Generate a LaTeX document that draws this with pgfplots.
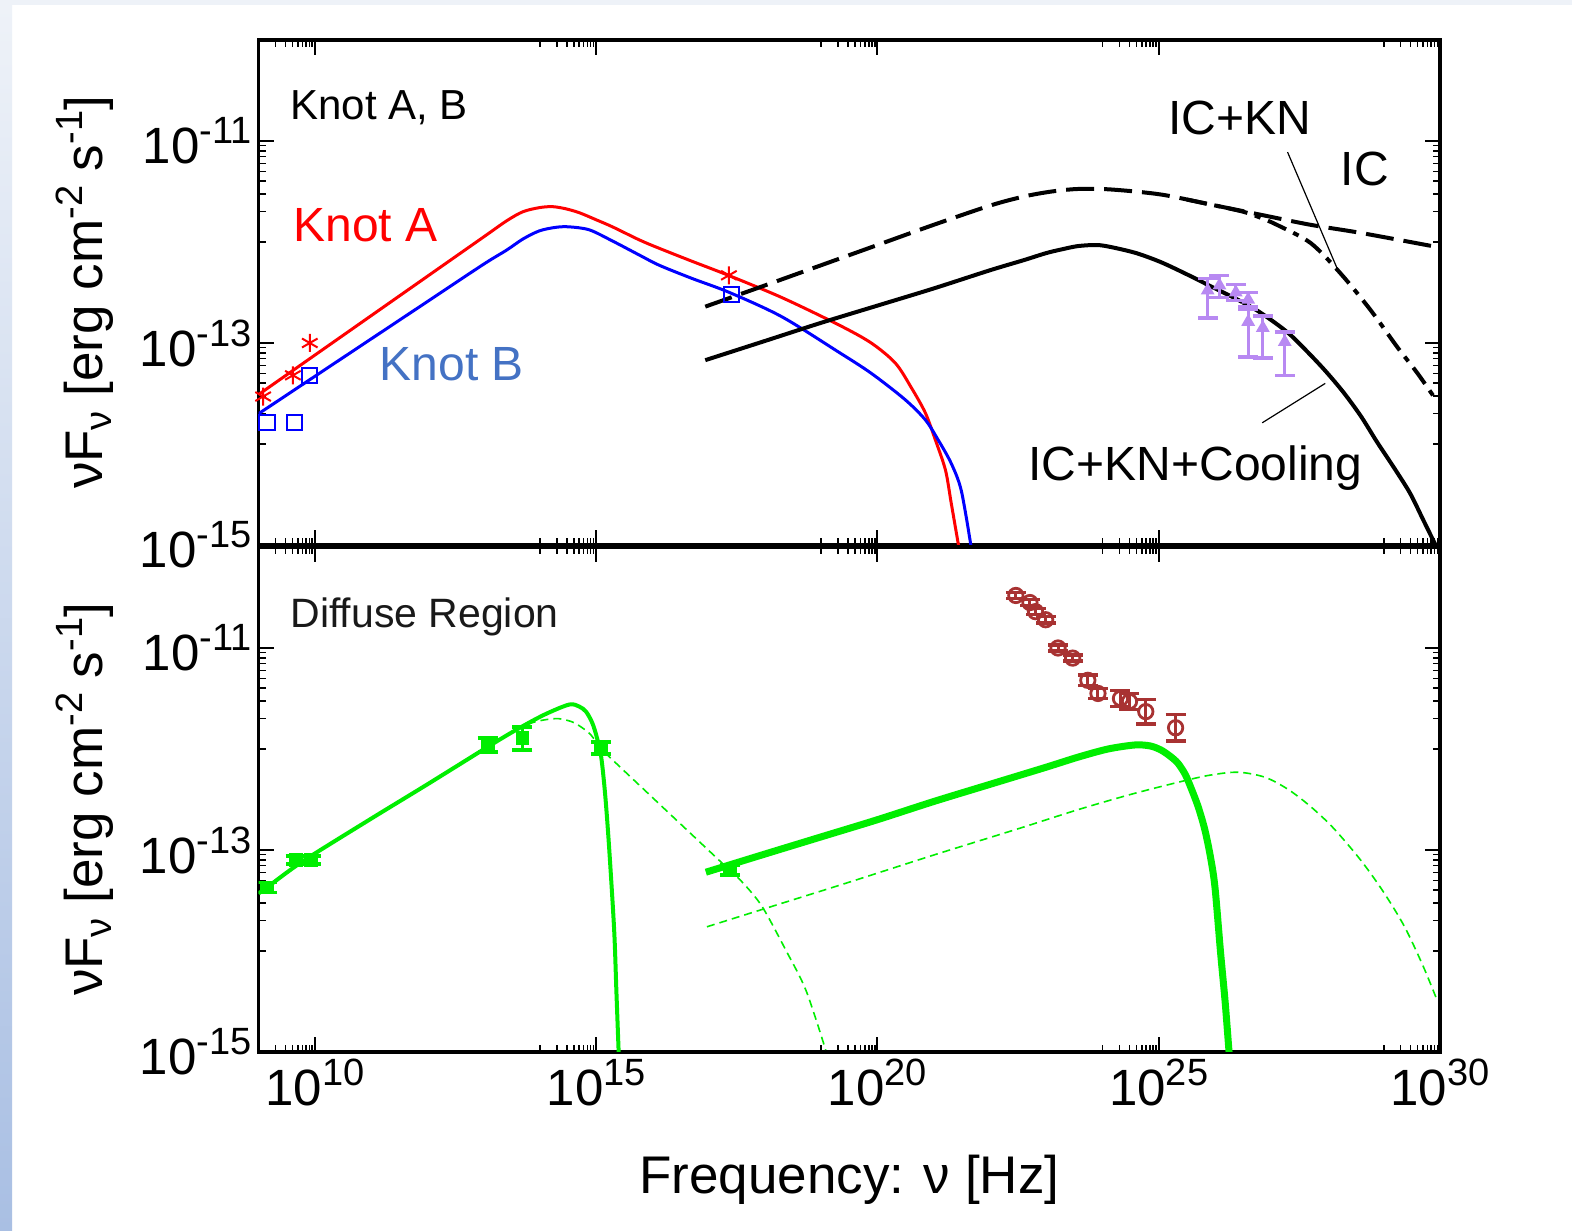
\documentclass[border=0pt]{standalone}
\usepackage{pgfplots}
\pgfplotsset{compat=1.18}
\usepackage{fontspec}
\setmainfont{Liberation Sans}
\definecolor{bgout}{HTML}{EEF2F8}
\definecolor{bgblue}{HTML}{A9BFE3}
\definecolor{kbblue}{HTML}{4472C4}
\definecolor{grn}{HTML}{00EE00}
\definecolor{purp}{HTML}{B889F2}
\definecolor{brn}{HTML}{A83232}
\newcommand{\Sup}[1]{\raisebox{10pt}{\fontsize{19}{22}\selectfont #1}}
\newcommand{\Sub}[1]{\raisebox{-4.5pt}{\fontsize{19}{22}\selectfont #1}}
\pgfplotsset{
  sedpanel/.style={
    anchor=south west, scale only axis, width=590.7pt, height=252.5pt,
    xmin=9, xmax=30, ymin=-15, ymax=-10, clip=true,
    xtick={10,15,20,25,30},
    ytick={-15,-13,-11},
    yticklabels={10\Sup{-15},10\Sup{-13},10\Sup{-11}},
    minor xtick={9,9.301,9.477,9.602,9.699,9.778,9.845,9.903,9.954,
      14,14.301,14.477,14.602,14.699,14.778,14.845,14.903,14.954,
      19,19.301,19.477,19.602,19.699,19.778,19.845,19.903,19.954,
      24,24.301,24.477,24.602,24.699,24.778,24.845,24.903,24.954,
      29,29.301,29.477,29.602,29.699,29.778,29.845,29.903,29.954},
    minor ytick={-12,-11.699,-11.523,-11.398,-11.301,-11.222,-11.155,-11.097,-11.046,
      -14,-13.699,-13.523,-13.398,-13.301,-13.222,-13.155,-13.097,-13.046},
    axis line style={line width=1.6pt},
    major tick length=7.5pt, minor tick length=3.5pt,
    every major tick/.append style={line width=1pt, black},
    every minor tick/.append style={line width=0.8pt, black},
    tick label style={font=\fontsize{25.5}{28}\selectfont},
    label style={font=\fontsize{26.5}{30}\selectfont},
    ylabel={νF\Sub{ν} [erg cm\Sup{-2} s\Sup{-1}]},
    ylabel style={at={(axis description cs:-0.147,0.5)}, anchor=center},
  },
  curve/.style={smooth, tension=0.5, line join=round},
  ebar/.style={error bars/.cd, y dir=both, y explicit,
    error bar style={line width=1.5pt, #1},
    error mark options={rotate=90, line width=1.8pt, mark size=5pt, #1}},
}
\begin{document}
\begin{tikzpicture}
\fill[bgout] (0,0) rectangle (786pt,615pt);
\fill[white] (6pt,0) rectangle (786pt,612.5pt);
\shade[top color=bgout, bottom color=bgblue] (0,0) rectangle (6pt,612.5pt);

% ---------------- top panel ----------------
\begin{axis}[sedpanel, at={(129.3pt,342.5pt)}, xticklabels={}]
% Knot A (red)
\addplot[curve, red, line width=1.5pt] coordinates {
(9.0,-13.51) (10,-13.12) (11,-12.73) (12,-12.34) (13,-11.95) (13.41,-11.79)
(13.7,-11.70) (13.99,-11.66) (14.22,-11.65) (14.45,-11.67) (14.7,-11.71)
(15.0,-11.78) (15.29,-11.85) (15.77,-11.98) (16.11,-12.06) (16.7,-12.19)
(17.35,-12.33) (18.3,-12.55) (19.31,-12.82) (19.89,-13.00) (20.32,-13.20)
(20.60,-13.44) (20.85,-13.69) (21.03,-13.96) (21.21,-14.26) (21.31,-14.58) (21.44,-15.0)};
% Knot B (blue)
\addplot[curve, blue, line width=1.5pt] coordinates {
(9.0,-13.70) (10,-13.33) (11,-12.96) (12,-12.59) (13,-12.22) (13.41,-12.08)
(13.7,-11.97) (13.99,-11.89) (14.28,-11.855) (14.52,-11.85) (14.88,-11.88)
(15.29,-11.99) (15.77,-12.13) (16.12,-12.23) (16.7,-12.36) (17.37,-12.50)
(18.3,-12.74) (19.31,-13.09) (19.89,-13.30) (20.49,-13.56) (20.85,-13.76)
(21.08,-13.96) (21.31,-14.19) (21.49,-14.46) (21.66,-15.0)};
% data Knot A
\addplot[only marks, red, mark=asterisk, mark size=4.5pt, line width=1pt] coordinates {
(9.08,-13.53) (9.61,-13.32) (9.91,-13.0) (17.36,-12.33)};
% data Knot B
\addplot[only marks, blue, mark=square, mark size=3.8pt, line width=1pt] coordinates {
(9.15,-13.79) (9.64,-13.79) (9.91,-13.32) (17.41,-12.52)};
% IC (dashed)
\addplot[curve, black, line width=2pt, dash pattern=on 14pt off 5pt] coordinates {
(16.94,-12.64) (18,-12.43) (19,-12.23) (20,-12.03) (21,-11.83) (22,-11.64)
(22.6,-11.55) (23.1,-11.50) (23.57,-11.475) (24.15,-11.48) (25.04,-11.53)
(25.93,-11.63) (26.81,-11.73) (27.70,-11.83) (28.59,-11.91) (29.95,-12.05)};
% IC+KN (dash-dot), drawn where it departs from IC
\addplot[curve, black, line width=2pt, dash pattern=on 10pt off 4pt on 3pt off 4pt] coordinates {
(25.5,-11.58) (25.93,-11.63) (26.5,-11.70) (26.81,-11.76) (27.1,-11.83) (27.70,-12.01)
(28.23,-12.31) (28.76,-12.67) (29.24,-13.04) (29.6,-13.30) (29.95,-13.58)};
% IC+KN+Cooling (solid)
\addplot[curve, black, line width=2pt] coordinates {
(16.94,-13.17) (18,-12.98) (19,-12.80) (20,-12.63) (21,-12.46) (22,-12.28)
(22.6,-12.18) (23.0,-12.11) (23.3,-12.07) (23.57,-12.04) (23.9,-12.03)
(24.15,-12.05) (24.6,-12.11) (25.04,-12.20) (25.5,-12.32) (25.93,-12.44)
(26.4,-12.57) (26.81,-12.70) (27.3,-12.90) (27.70,-13.12) (28.0,-13.30)
(28.30,-13.50) (28.6,-13.73) (28.88,-13.98) (29.2,-14.25) (29.47,-14.49)
(29.7,-14.75) (29.92,-15.0)};
% gamma-ray data (purple)
\addplot[only marks, purp, mark=triangle*, mark size=2.5pt, line width=1.5pt, ebar=purp] coordinates {
(25.87,-12.48) += (0,0.12) -= (0,0.27)
(26.08,-12.43) += (0,0.10) -= (0,0.12)
(26.37,-12.50) += (0,0.08) -= (0,0.08)
(26.59,-12.57) += (0,0.07) -= (0,0.07)
(26.59,-12.79) += (0,0.12) -= (0,0.35)
(26.85,-12.85) += (0,0.12) -= (0,0.30)
(27.24,-12.99) += (0,0.10) -= (0,0.33)};
% labels
\node[anchor=base west, inner sep=0, text=black, font=\fontsize{21}{24}\selectfont] at (axis cs:9.56,-10.79) {Knot A, B};
\node[anchor=base west, inner sep=0, text=red, font=\fontsize{24}{28}\selectfont] at (axis cs:9.61,-12.0) {Knot A};
\node[anchor=base west, inner sep=0, text=kbblue, font=\fontsize{24}{28}\selectfont] at (axis cs:11.15,-13.37) {Knot B};
\node[anchor=base west, inner sep=0, font=\fontsize{24}{28}\selectfont] at (axis cs:25.16,-10.94) {IC+KN};
\node[anchor=base west, inner sep=0, font=\fontsize{24}{28}\selectfont] at (axis cs:28.23,-11.44) {IC};
\node[anchor=base west, inner sep=0, font=\fontsize{24}{28}\selectfont] at (axis cs:22.68,-14.36) {IC+KN+Cooling};
\draw[line width=0.6pt] (axis cs:27.29,-11.11) -- (axis cs:28.17,-12.26);
\draw[line width=0.6pt] (axis cs:26.84,-13.79) -- (axis cs:27.96,-13.40);
\end{axis}

% ---------------- bottom panel ----------------
\begin{axis}[sedpanel, at={(129.3pt,89pt)},
  xticklabels={10\Sup{10},10\Sup{15},10\Sup{20},10\Sup{25},10\Sup{30}},
  xlabel={Frequency: ν [Hz]},
  xlabel style={at={(axis description cs:0.5,-0.253)}, anchor=center}]
% synchrotron (solid)
\addplot[curve, grn, line width=2pt] coordinates {
(9.0,-13.43) (9.15,-13.37) (9.79,-13.11) (11,-12.69) (12,-12.35) (13.07,-11.98)
(13.58,-11.81) (14.08,-11.66) (14.52,-11.56) (14.70,-11.58) (14.82,-11.63)
(14.93,-11.74) (15.01,-11.88) (15.09,-12.08) (15.16,-12.45) (15.23,-12.97)
(15.32,-13.79) (15.36,-14.40) (15.40,-15.0)};
% synchrotron (thin dashed)
\addplot[curve, grn, line width=0.8pt, dash pattern=on 4pt off 2.5pt] coordinates {
(13.58,-11.81) (13.86,-11.74) (14.1,-11.71) (14.34,-11.70) (14.61,-11.74)
(14.87,-11.84) (15.0,-11.93) (15.09,-12.0) (16,-12.48) (17.24,-13.13)
(17.6,-13.32) (17.95,-13.56) (18.37,-13.99) (18.73,-14.39) (19.08,-14.98)};
% IC (thick)
\addplot[curve, grn, line width=3.5pt] coordinates {
(16.95,-13.22) (18,-13.04) (19,-12.87) (20,-12.70) (21,-12.52) (22,-12.35)
(23,-12.18) (23.57,-12.08) (24.1,-12.0) (24.58,-11.96) (24.85,-11.97)
(25.04,-12.01) (25.2,-12.07) (25.34,-12.14) (25.47,-12.25) (25.57,-12.38)
(25.7,-12.57) (25.82,-12.80) (25.92,-13.07) (26.0,-13.37) (26.10,-14.02)
(26.18,-14.5) (26.25,-15.0)};
% IC (thin dashed)
\addplot[curve, grn, line width=0.8pt, dash pattern=on 4pt off 2.5pt] coordinates {
(16.97,-13.76) (18,-13.58) (19.49,-13.32) (21,-13.05) (22.5,-12.79)
(23.57,-12.60) (24.5,-12.45) (25.34,-12.33) (25.9,-12.26) (26.41,-12.23)
(26.89,-12.28) (27.3,-12.40) (27.70,-12.57) (28.1,-12.78) (28.59,-13.10)
(29.0,-13.42) (29.37,-13.76) (29.7,-14.15) (29.95,-14.49)};
% green data
\addplot[only marks, grn, mark=square*, mark size=3.2pt, ebar=grn] coordinates {
(9.15,-13.37) +- (0,0.05)
(9.66,-13.10) +- (0,0.04)
(9.93,-13.10) +- (0,0.04)
(13.07,-11.96) +- (0,0.07)
(13.69,-11.89) += (0,0.11) -= (0,0.12)
(15.09,-11.99) +- (0,0.06)
(17.38,-13.20) +- (0,0.05)};
% brown data
\addplot[only marks, brn, mark=o, mark size=3.6pt, line width=1.4pt, ebar=brn] coordinates {
(22.46,-10.48) +- (0,0.03)
(22.71,-10.55) +- (0,0.03)
(22.81,-10.64) +- (0,0.03)
(22.99,-10.72) +- (0,0.03)
(23.21,-11.00) +- (0,0.03)
(23.47,-11.10) +- (0,0.03)
(23.74,-11.32) +- (0,0.05)
(23.92,-11.45) +- (0,0.05)
(24.32,-11.50) +- (0,0.08)
(24.48,-11.53) +- (0,0.08)
(24.77,-11.63) +- (0,0.12)
(25.30,-11.79) +- (0,0.13)};
\node[anchor=base west, inner sep=0, text=black!90, font=\fontsize{20.5}{24}\selectfont] at (axis cs:9.56,-10.80) {Diffuse Region};
\end{axis}
\end{tikzpicture}
\end{document}
